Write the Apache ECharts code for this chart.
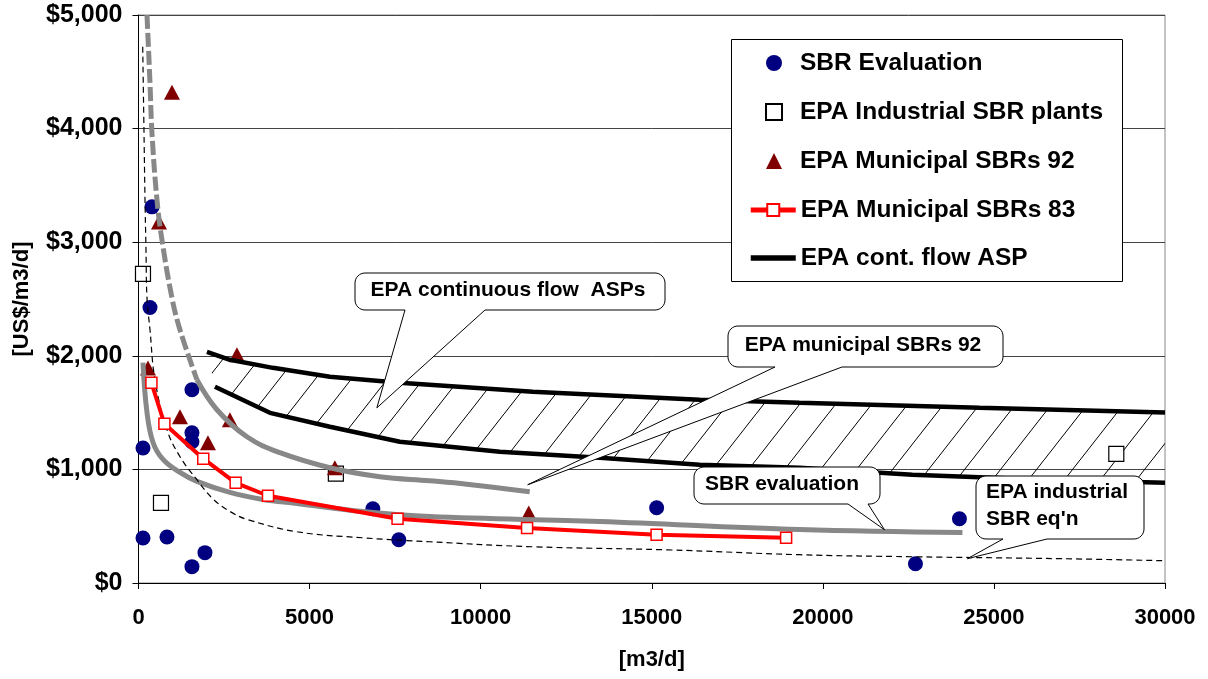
<!DOCTYPE html>
<html><head><meta charset="utf-8">
<script src="https://cdn.jsdelivr.net/npm/echarts@6/dist/echarts.min.js"></script>
<style>html,body{margin:0;padding:0;background:#fff}#c{width:1208px;height:679px}</style>
</head><body><div id="c"></div><script>
// ---------- data (x: m3/d, y: US$/m3/d) ----------
const sbrEvaluation = [[131,1188],[131,396],[336,2425],[394,3311],[832,405],[1562,1701],[1562,1323],[1562,1244],[1562,144],[1942,267],[6849,654],[7608,381],[15143,663],[22707,170],[23993,566]];
const epaIndustrialPlants = [[131,2721],[657,706],[5768,962],[28577,1137]];
const epaMunicipal92 = [[978,4321],[599,3178],[277,1892],[1212,1463],[2030,1235],[2672,1437],[2877,2010],[5739,1014],[11405,617]];
const epaMunicipal83 = [[378,1762],[757,1402],[1893,1094],[2839,882],[3785,768],[7571,566],[11356,485],[15142,425],[18927,398]];
const aspUpper = [[2000,2035],[2672,1965],[3928,1894],[5593,1815],[7637,1762],[11522,1683],[16399,1613],[19319,1586],[24576,1542],[30000,1500]];
const aspLower = [[2234,1727],[3841,1498],[5593,1375],[7637,1243],[10558,1155],[13478,1102],[16399,1041],[19319,1014],[22619,952],[26532,908],[30000,882]];
const municipal92FitExtrap = [[248,5000],[336,4401],[394,3961],[540,3372],[686,3020],[978,2510],[1212,2229],[1708,1789]];
const municipal92Fit = [[1708,1789],[2293,1525],[3169,1287],[4133,1147],[5593,1015],[7054,936],[8513,900],[9594,870],[11434,803]];
const sbrEvalFit = [[131,1941],[248,1501],[424,1237],[716,1088],[1212,973],[1708,894],[2672,797],[3636,735],[4629,700],[6557,629],[8513,585],[13478,541],[19319,470],[24080,444]];
const industrialEqn = [[123,4720],[161,3963],[190,3374],[219,2934],[248,2510],[336,2229],[482,1789],[832,1349],[1212,1112],[1708,909],[2176,740],[2672,630],[3169,560],[4629,451],[6557,398],[8513,363],[11522,319],[15435,292],[19319,249],[22619,231],[26999,214],[30000,196]];
const legendNames = ['SBR Evaluation','EPA Industrial SBR plants','EPA Municipal SBRs 92','EPA Municipal SBRs 83','EPA cont. flow ASP'];
const calloutTexts = [['EPA continuous flow  ASPs'],['EPA municipal SBRs 92'],['SBR evaluation'],['EPA industrial','SBR eq\'n']];
const calloutTargets = [[6966,1542],[11375,865],[21802,469],[24225,214]];

const FONT = '"Liberation Sans", Arial, sans-serif';
const chart = echarts.init(document.getElementById('c'), null, {renderer:'canvas'});

function hatchPattern(){
  const W=36,H=46;
  const c=document.createElement('canvas'); c.width=W; c.height=H;
  const g=c.getContext('2d'); g.strokeStyle='#000'; g.lineWidth=1;
  g.beginPath(); g.moveTo(-2,H+2.6); g.lineTo(W+2,-2.6); g.stroke();
  return c;
}
const pat = hatchPattern();
const legendText = {fontFamily:FONT,fontWeight:'bold',fontSize:24.5,color:'#000',lineHeight:28};

const option = {
  animation:false,
  backgroundColor:'#fff',
  textStyle:{fontFamily:FONT},
  grid:{left:138.5,right:43,top:15,bottom:96,show:true,borderColor:'#888',borderWidth:1},
  xAxis:{type:'value',min:0,max:30000,interval:5000,
    name:'[m3/d]',nameLocation:'middle',nameGap:66,
    nameTextStyle:{fontFamily:FONT,fontWeight:'bold',fontSize:22,color:'#000'},
    axisLine:{lineStyle:{color:'#000',width:1}},
    axisTick:{show:true,length:6,lineStyle:{color:'#000'}},
    axisLabel:{margin:24,fontFamily:FONT,fontWeight:'bold',fontSize:22,color:'#000',formatter:v=>String(v)},
    splitLine:{show:false}},
  yAxis:{type:'value',min:0,max:5000,interval:1000,
    name:'[US$/m3/d]',nameLocation:'middle',nameGap:106,nameRotate:90,
    nameTextStyle:{fontFamily:FONT,fontWeight:'bold',fontSize:22,color:'#000'},
    axisLine:{show:true,lineStyle:{color:'#000',width:1}},
    axisTick:{show:true,length:6,lineStyle:{color:'#000'}},
    axisLabel:{margin:16,fontFamily:FONT,fontWeight:'bold',fontSize:25,color:'#000',
      formatter:v=>'$'+v.toLocaleString('en-US')},
    splitLine:{show:true,lineStyle:{color:'#444',width:1}}},
  legend:[
    {data:legendNames.slice(0,3),orient:'vertical',left:765,top:49,z:5,
      padding:0,itemWidth:16,itemHeight:16,itemGap:21,selectedMode:false,
      textStyle:Object.assign({padding:[0,0,0,13]},legendText)},
    {data:[{name:legendNames[3],lineStyle:{width:5}},
           {name:legendNames[4],lineStyle:{width:5.5},itemStyle:{opacity:0}}],
      orient:'vertical',left:748,top:196,z:5,
      padding:0,itemWidth:45,itemHeight:15,itemGap:20,selectedMode:false,
      textStyle:legendText}
  ],
  series:[
    {type:'custom',name:'hatch',silent:true,z:1,clip:true,data:[[0,0]],
      renderItem:(params,api)=>{
        const pts=[];
        aspUpper.forEach(p=>pts.push(api.coord(p)));
        for(let i=aspLower.length-1;i>=0;i--) pts.push(api.coord(aspLower[i]));
        return {type:'polygon',shape:{points:pts},style:{fill:{image:pat,repeat:'repeat'},stroke:null}};
      }},
    {type:'scatter',name:'SBR Evaluation',data:sbrEvaluation,symbol:'circle',symbolSize:15,z:2,
      itemStyle:{color:'#000080',opacity:1}},
    {type:'scatter',name:'EPA Industrial SBR plants',data:epaIndustrialPlants,symbol:'rect',symbolSize:15,z:2,
      itemStyle:{color:'#fff',borderColor:'#000',borderWidth:1.2,opacity:1}},
    {type:'scatter',name:'EPA Municipal SBRs 92',data:epaMunicipal92,symbol:'triangle',symbolSize:[16,15],z:2,
      itemStyle:{color:'#800000',opacity:1}},
    {type:'line',name:'92 fit extrapolated',data:municipal92FitExtrap,smooth:0.4,symbol:'none',z:3,
      lineStyle:{color:'#888',width:5,type:[14,4]}},
    {type:'line',name:'92 fit',data:municipal92Fit,smooth:0.4,symbol:'none',z:3,
      lineStyle:{color:'#888',width:5}},
    {type:'line',name:'SBR evaluation fit',data:sbrEvalFit,smooth:0.4,symbol:'none',z:3,
      lineStyle:{color:'#888',width:5}},
    {type:'line',name:'industrial eqn',data:industrialEqn,smooth:0.4,symbol:'none',z:3,
      lineStyle:{color:'#000',width:1.2,type:[6,4]}},
    {type:'line',name:'EPA cont. flow ASP',data:aspUpper,symbol:'none',z:3,
      lineStyle:{color:'#000',width:4.5},itemStyle:{color:'#000'}},
    {type:'line',name:'EPA cont. flow ASP',data:aspLower,symbol:'none',z:3,
      lineStyle:{color:'#000',width:4.5},itemStyle:{color:'#000'}},
    {type:'line',name:'EPA Municipal SBRs 83',data:epaMunicipal83,symbol:'rect',symbolSize:11,showSymbol:true,z:4,
      lineStyle:{color:'#ff0000',width:4},itemStyle:{color:'#fff',borderColor:'#ff0000',borderWidth:1.5}}
  ]
};
chart.setOption(option);

// ---------- callouts and legend box ----------
function calloutPoints(x0,y0,x1,y1,b1,b2,tx,ty,r){
  const pts=[];
  const arc=(cx,cy,a0,a1)=>{for(let k=0;k<=8;k++){const a=a0+(a1-a0)*k/8;pts.push([cx+r*Math.cos(a),cy+r*Math.sin(a)]);}};
  arc(x0+r,y0+r,Math.PI,1.5*Math.PI);
  arc(x1-r,y0+r,1.5*Math.PI,2*Math.PI);
  arc(x1-r,y1-r,0,0.5*Math.PI);
  pts.push([b2,y1],[tx,ty],[b1,y1]);
  arc(x0+r,y1-r,0.5*Math.PI,Math.PI);
  return pts;
}
const boxes = [
  {x0:355,y0:273,x1:665,y1:310,b1:405,b2:485,tx:508,ty:290,align:'center'},
  {x0:728,y0:326,x1:1003,y1:367,b1:775,b2:842,tx:863,ty:345,align:'center'},
  {x0:694,y0:467,x1:880,y1:504,b1:848,b2:868,tx:782,ty:484,align:'center'},
  {x0:976,y0:476,x1:1144,y1:539,b1:1003,b2:1047,tx:986,ty:492,align:'left'}
];
const elems=[{type:'rect',z:3,shape:{x:731.5,y:39.5,width:391,height:242},style:{fill:'#fff',stroke:'#000',lineWidth:1}}];
boxes.forEach((b,i)=>{
  const t = chart.convertToPixel({gridIndex:0}, calloutTargets[i]);
  elems.push({type:'polygon',z:100,shape:{points:calloutPoints(b.x0,b.y0,b.x1,b.y1,b.b1,b.b2,t[0],t[1],10)},
    style:{fill:'#fff',stroke:'#000',lineWidth:1}});
  calloutTexts[i].forEach((s,j)=>{
    elems.push({type:'text',z:101,x:b.tx,y:b.ty+j*27,
      style:{text:s,font:'bold 21px '+FONT,fill:'#000',align:b.align,verticalAlign:'middle'}});
  });
});
chart.setOption({graphic:elems});
</script></body></html>
